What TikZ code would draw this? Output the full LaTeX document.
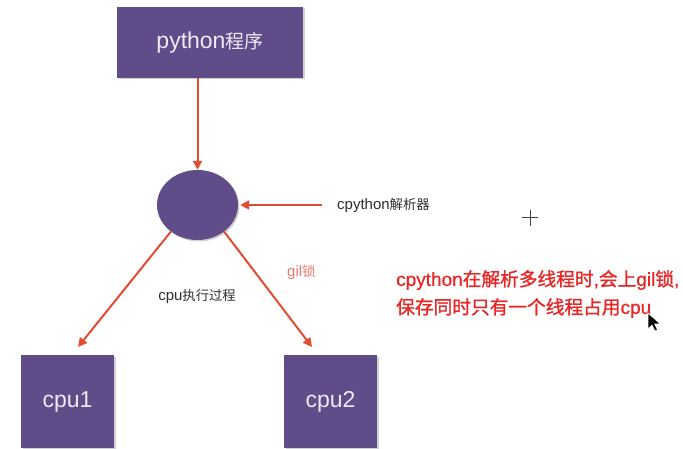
\documentclass[tikz,border=0pt]{standalone}
\usepackage{fontspec}
\setmainfont{Liberation Sans}
\newfontfamily\cjk{Noto Sans CJK SC}
\newfontfamily\notecjk[FakeBold=1.2]{Noto Sans CJK SC}
\newfontfamily\notelat[FakeBold=0.6]{Liberation Sans}
\usetikzlibrary{arrows.meta,shadows,shapes.geometric}
\definecolor{boxpurple}{RGB}{96,76,136}
\definecolor{arrowred}{RGB}{226,76,50}
\definecolor{gilred}{RGB}{232,120,110}
\definecolor{notered}{RGB}{232,38,38}
\definecolor{boxtextcol}{RGB}{238,234,244}
\newcommand{\bigcj}[1]{{\cjk\fontsize{19}{24}\selectfont #1}}
\newcommand{\smcj}[1]{{\cjk\fontsize{13.3}{16}\selectfont #1}}
\newcommand{\ncj}[1]{{\notecjk\fontsize{18.7}{28}\selectfont #1}}
\begin{document}
\begin{tikzpicture}[x=1pt,y=-1pt,
  pbox/.style={draw=none,fill=boxpurple,text=boxtextcol,inner sep=0pt,
    drop shadow={opacity=0.35,shadow xshift=1.5pt,shadow yshift=-1.5pt}},
  conn/.style={draw=arrowred,line width=2pt,-{Triangle[length=9pt,width=9pt]}},
  boxtext/.style={font=\fontsize{23}{26}\selectfont},
  lbl/.style={font=\fontsize{15}{17}\selectfont,text=black!82,inner sep=0pt}]
\useasboundingbox (0,0) rectangle (683,449);
\fill[white] (0,0) rectangle (683,449);
\node[pbox,boxtext,minimum width=186pt,minimum height=71pt] (prog) at (210,42.5) {python\bigcj{程序}};
\node[pbox,ellipse,minimum width=81pt,minimum height=70pt] (interp) at (197.5,205) {};
\node[pbox,boxtext,minimum width=93pt,minimum height=93pt] (cpu1) at (67.5,401.5) {cpu1};
\node[pbox,boxtext,minimum width=93pt,minimum height=93pt] (cpu2) at (330.5,401.5) {cpu2};
\node[lbl,anchor=west] (parser) at (337,205) {cpython\smcj{解析器}};
\coordinate (parserend) at (322,205);
\node[lbl] (exec) at (197,296) {cpu\smcj{执行过程}};
\node[lbl,text=gilred,anchor=west] (gil) at (287,272) {gil\smcj{锁}};
\draw[conn] (prog.south -| interp.north) -- (interp.north);
\draw[conn] (parserend) -- ([xshift=2pt]interp.east);
\draw[conn] (interp.225) -- (78,347);
\draw[conn] (interp.315) -- (312,347);
\node[anchor=west,align=left,text=notered,inner sep=0pt,font=\notelat\fontsize{19}{28}\selectfont] (note) at (396,294) {cpython\ncj{在解析多线程时},\ncj{会上}gil\ncj{锁},\\\ncj{保存同时只有一个线程占用}cpu};
\coordinate (cross) at (530,218);
\draw[black!75,line width=1pt] ([xshift=-8pt]cross) -- ([xshift=8pt]cross) ([yshift=-8pt]cross) -- ([yshift=8pt]cross);
\coordinate (cursor) at (648,313);
\filldraw[black,draw=white,line width=0.6pt] (cursor) -- ++(0,16) -- ++(4,-4) -- ++(3,6) -- ++(2.5,-1.2) -- ++(-3,-6) -- ++(5.5,0) -- cycle;
\end{tikzpicture}
\end{document}
